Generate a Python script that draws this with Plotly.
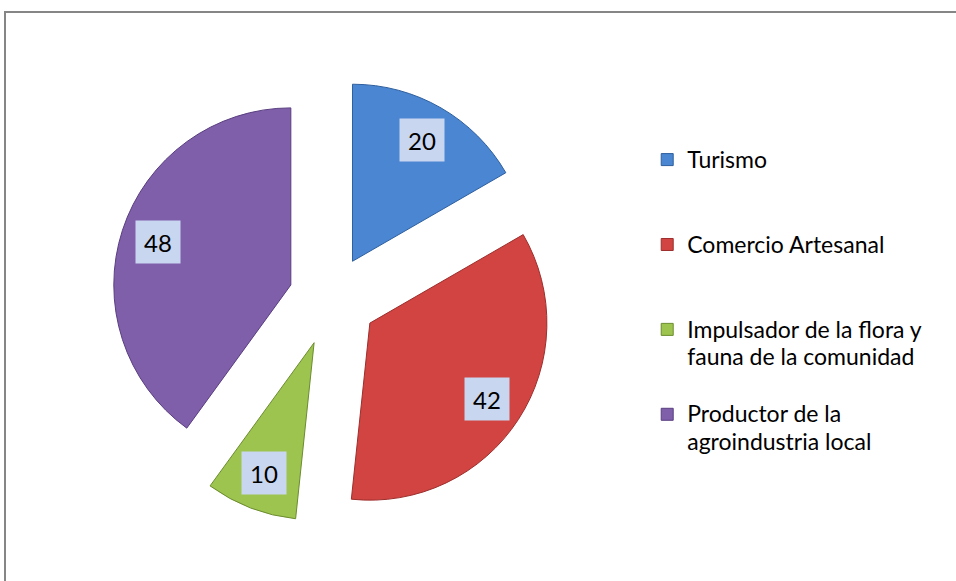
import math
import plotly.graph_objects as go

categorias = [
    "Turismo",
    "Comercio Artesanal",
    "Impulsador de la flora y<br>fauna de la comunidad",
    "Productor de la<br>agroindustria local",
]
valores = [20, 42, 10, 48]

colores = ["#4a86d2", "#d14441", "#9cc44e", "#7f5eaa"]
bordes = ["#2f5f9e", "#9c2f2d", "#6c8c2f", "#5a3f80"]
pull = [0.24, 0.26, 0.27, 0.24]

W, H = 956, 581
DOM_X = [0.111, 0.582]
DOM_Y = [0.100, 0.874]
LABEL_R = 0.79
LEGEND_FS = 21
TEXT_FS = 23
FONT = "Lato, 'Open Sans', sans-serif"


def legend_label(txt, lines=3):
    # pad every entry to 3 lines so the legend spacing matches the original
    parts = [f'<span style="font-size:{TEXT_FS}px">{p}</span>' for p in txt.split("<br>")]
    parts += ['<span style="font-size:6px">&nbsp;</span>'] * (lines - len(parts))
    return "<br>".join(parts)


fig = go.Figure(
    go.Pie(
        labels=[legend_label(c) for c in categorias],
        values=valores,
        sort=False,
        direction="clockwise",
        rotation=0,
        pull=pull,
        marker=dict(colors=colores, line=dict(color=bordes, width=1)),
        textinfo="none",
        hoverinfo="skip",
        domain=dict(x=DOM_X, y=DOM_Y),
    )
)

# value boxes placed at each slice, computed from the values
w_px = (DOM_X[1] - DOM_X[0]) * W
h_px = (DOM_Y[1] - DOM_Y[0]) * H
r = min(w_px, h_px) / 2 / (1 + max(pull))
cx = sum(DOM_X) / 2
cy = sum(DOM_Y) / 2
total = sum(valores)
acum = 0
for v, p in zip(valores, pull):
    mid = (acum + v / 2) / total * 2 * math.pi
    acum += v
    d = (p + LABEL_R) * r
    fig.add_annotation(
        x=cx + d * math.sin(mid) / W,
        y=cy + d * math.cos(mid) / H,
        xref="paper",
        yref="paper",
        xanchor="center",
        yanchor="middle",
        text=str(v),
        showarrow=False,
        bgcolor="#c9d6ef",
        width=42,
        height=40,
        borderpad=1,
        font=dict(family=FONT, size=24, color="black"),
    )

fig.update_layout(
    width=W,
    height=H,
    margin=dict(l=0, r=0, t=0, b=0),
    paper_bgcolor="white",
    plot_bgcolor="white",
    font=dict(family=FONT, color="black"),
    showlegend=True,
    legend=dict(
        x=0.677,
        y=0.760,
        xanchor="left",
        yanchor="top",
        valign="top",
        bgcolor="rgba(0,0,0,0)",
        font=dict(family=FONT, size=LEGEND_FS, color="black"),
        itemclick=False,
        itemdoubleclick=False,
    ),
    shapes=[
        dict(
            type="rect",
            xref="paper",
            yref="paper",
            x0=5 / W,
            y0=-0.05,
            x1=1.05,
            y1=1 - 12 / H,
            line=dict(color="#868686", width=2),
        )
    ],
)

# the page body margin would shift the chart by 8px
fig.write_html(
    "out.html",
    config={"displayModeBar": False},
    post_script="document.body.style.margin = '0';",
)
